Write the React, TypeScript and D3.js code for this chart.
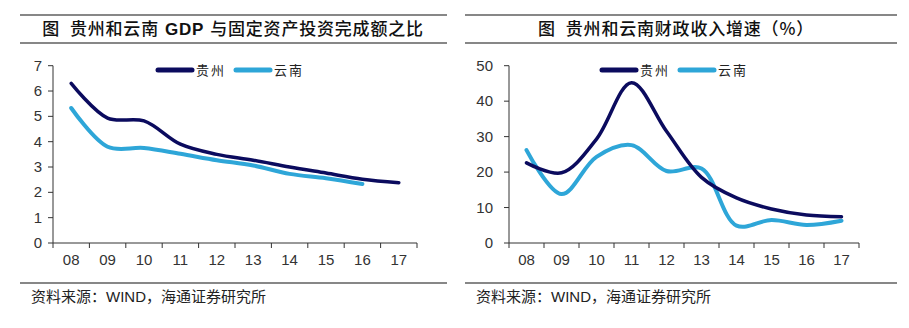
import React from "react";
import * as d3 from "d3";

const years = ["08", "09", "10", "11", "12", "13", "14", "15", "16", "17"];
const gzRatio = [6.3, 4.93, 4.82, 3.9, 3.5, 3.27, 3.0, 2.76, 2.52, 2.38];
const ynRatio = [5.33, 3.8, 3.75, 3.52, 3.27, 3.06, 2.73, 2.56, 2.33];
const gzRevenue = [22.6, 19.8, 29.3, 45.2, 31.5, 18.5, 12.7, 9.6, 7.9, 7.4];
const ynRevenue = [26.2, 13.8, 24.3, 27.6, 20.3, 21.0, 4.9, 6.5, 5.1, 6.3];
const ratioTicks = [0, 1, 2, 3, 4, 5, 6, 7];
const revenueTicks = [0, 10, 20, 30, 40, 50];
const seriesNames = ["贵州", "云南"];

const GZ = "#0b0b5e";
const YN = "#2ea6d8";
const CJK = "'Noto Sans CJK SC', 'Noto Sans', sans-serif";
const LAT = "'Liberation Sans', Arial, sans-serif";

type PanelProps = {
  x0: number;
  x1: number;
  y0: number;
  y1: number;
  yMax: number;
  yTicks: number[];
  gz: number[];
  yn: number[];
  labelGap: number;
  legendX: number;
  legend2X: number;
};

function Panel(p: PanelProps) {
  const band = d3.scaleBand<string>().domain(years).range([p.x0, p.x1]);
  const y = d3.scaleLinear().domain([0, p.yMax]).range([p.y0, p.y1]);
  const cx = (i: number) => (band(years[i]) as number) + band.bandwidth() / 2;
  const line = d3
    .line<number>()
    .x((_, i) => cx(i))
    .y((v) => y(v))
    .curve(d3.curveCatmullRom.alpha(0.5));
  const bounds = years.map((yr) => band(yr) as number).concat([p.x1]);
  return (
    <g>
      <path d={line(p.yn) || ""} fill="none" stroke={YN} strokeWidth={4} strokeLinecap="round" />
      <path d={line(p.gz) || ""} fill="none" stroke={GZ} strokeWidth={3.5} strokeLinecap="round" />
      <line x1={p.x0} x2={p.x0} y1={p.y0} y2={p.y1} stroke="#333" strokeWidth={1} />
      <line x1={p.x0} x2={p.x1} y1={p.y0} y2={p.y0} stroke="#333" strokeWidth={1} />
      {p.yTicks.map((t) => (
        <g key={"y" + t}>
          <line x1={p.x0 - 5} x2={p.x0} y1={y(t)} y2={y(t)} stroke="#333" />
          <text x={p.x0 - p.labelGap} y={y(t) + 5} textAnchor="end" fontFamily={LAT} fontSize={15} fill="#333">
            {t}
          </text>
        </g>
      ))}
      {bounds.map((b, i) => (
        <line key={"xt" + i} x1={b} x2={b} y1={p.y0} y2={p.y0 + 5} stroke="#333" />
      ))}
      {years.map((yr, i) => (
        <text key={yr} x={cx(i)} y={p.y0 + 22} textAnchor="middle" fontFamily={LAT} fontSize={15} fill="#333">
          {yr}
        </text>
      ))}
      <line x1={p.legendX} x2={p.legendX + 34} y1={70} y2={70} stroke={GZ} strokeWidth={5} strokeLinecap="round" />
      <text x={p.legendX + 38} y={75} fontFamily={CJK} fontSize={13} letterSpacing={2} fill="#222">
        {seriesNames[0]}
      </text>
      <line x1={p.legend2X} x2={p.legend2X + 34} y1={70} y2={70} stroke={YN} strokeWidth={5} strokeLinecap="round" />
      <text x={p.legend2X + 38} y={75} fontFamily={CJK} fontSize={13} letterSpacing={2} fill="#222">
        {seriesNames[1]}
      </text>
    </g>
  );
}

function Frame({ x0, x1, cx, title }: { x0: number; x1: number; cx: number; title: React.ReactNode }) {
  return (
    <g>
      <line x1={x0} x2={x1} y1={15} y2={15} stroke="#111" strokeWidth={1.2} />
      <line x1={x0} x2={x1} y1={43} y2={43} stroke="#111" strokeWidth={1.2} />
      <text x={cx} y={35} textAnchor="middle" fontFamily={CJK} fontSize={17} fontWeight={500} fill="#111" letterSpacing={0.8}>
        {title}
      </text>
      <line x1={x0} x2={x1} y1={283} y2={283} stroke="#111" strokeWidth={1.2} />
      <text x={x0 + 11} y={302} fontFamily={CJK} fontSize={15} fill="#222">
        资料来源：<tspan fontFamily={LAT}>WIND</tspan>，海通证券研究所
      </text>
    </g>
  );
}

export default function App() {
  return (
    <svg width={909} height={328} style={{ position: "absolute", left: 0, top: 0, background: "#fff" }}>
      <rect width={909} height={328} fill="#fff" />
      <Frame
        x0={20}
        x1={447}
        cx={233}
        title={
          <>
            图<tspan dx={10}>贵州和云南</tspan>
            <tspan dx={6} fontFamily={LAT} fontWeight={700}>GDP</tspan>
            <tspan dx={6}>与固定资产投资完成额之比</tspan>
          </>
        }
      />
      <Frame
        x0={465}
        x1={897}
        cx={676}
        title={
          <>
            图<tspan dx={10}>贵州和云南财政收入增速（%）</tspan>
          </>
        }
      />
      <Panel
        x0={53}
        x1={417}
        y0={243}
        y1={65.7}
        yMax={7}
        yTicks={ratioTicks}
        gz={gzRatio}
        yn={ynRatio}
        labelGap={11}
        legendX={158}
        legend2X={236}
      />
      <Panel
        x0={509}
        x1={859}
        y0={243}
        y1={65.7}
        yMax={50}
        yTicks={revenueTicks}
        gz={gzRevenue}
        yn={ynRevenue}
        labelGap={16}
        legendX={602}
        legend2X={680}
      />
    </svg>
  );
}
